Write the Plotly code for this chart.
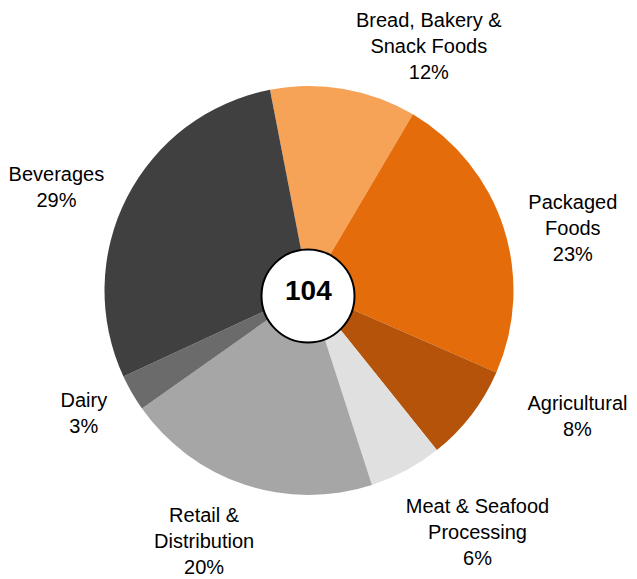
import plotly.graph_objects as go

labels = ["Bread, Bakery &<br>Snack Foods", "Packaged<br>Foods", "Agricultural",
          "Meat & Seafood<br>Processing", "Retail &<br>Distribution", "Dairy", "Beverages"]
values = [12, 24, 8, 6, 21, 3, 30]
colors = ["#F6A257", "#E46C0A", "#B45309", "#E0E0E0", "#A6A6A6", "#6B6B6B", "#404040"]
total = sum(values)

W, H = 637, 579
# page body has an 8px offset in the screenshot
cx, cy, R = 301, 282.5, 204.5
ROT = -11
# per-label placement tweaks (label ring gap in px, angular nudge in degrees)
label_gap = [6, 5, 34, 19, 13, 18, 12]
label_nudge = [-2, 1.4, -7.4, 7.8, -8.8, -1.4, 0]
ccx, ccy, r_in = 300, 288, 46.5


def dom(r):
    return dict(x=[(cx - r) / W, (cx + r) / W], y=[(H - cy - r) / H, (H - cy + r) / H])


fig = go.Figure()
fig.add_trace(go.Pie(
    labels=labels, values=values, sort=False, direction="clockwise",
    rotation=ROT, marker=dict(colors=colors, line=dict(width=0)),
    textinfo="none", showlegend=False, domain=dom(R), hoverinfo="label+percent",
    automargin=False,
))

for i in range(len(values)):
    txt = ["" for _ in values]
    txt[i] = "%s<br>%d%%" % (labels[i], round(100 * values[i] / total))
    fig.add_trace(go.Pie(
        labels=labels, values=values, sort=False, direction="clockwise",
        rotation=ROT + label_nudge[i],
        marker=dict(colors=["rgba(0,0,0,0)"] * len(values), line=dict(width=0)),
        text=txt, textinfo="text", textposition="outside",
        textfont=dict(family="Arial", size=20, color="#000000"),
        showlegend=False, domain=dom(R + label_gap[i]), hoverinfo="skip",
        automargin=False,
    ))

fig.add_shape(type="circle", xref="paper", yref="paper",
              x0=(ccx - r_in) / W, x1=(ccx + r_in) / W,
              y0=(H - ccy - r_in) / H, y1=(H - ccy + r_in) / H,
              fillcolor="white", line=dict(color="black", width=2))
fig.add_annotation(x=ccx / W, y=(H - cy) / H, xref="paper", yref="paper",
                   text="<b>%d</b>" % total, showarrow=False,
                   font=dict(family="Arial", size=28, color="black"))

fig.update_layout(width=W, height=H,
                  margin=dict(l=0, r=0, t=0, b=0, autoexpand=False),
                  paper_bgcolor="white", plot_bgcolor="white")
fig.write_html("out.html")
